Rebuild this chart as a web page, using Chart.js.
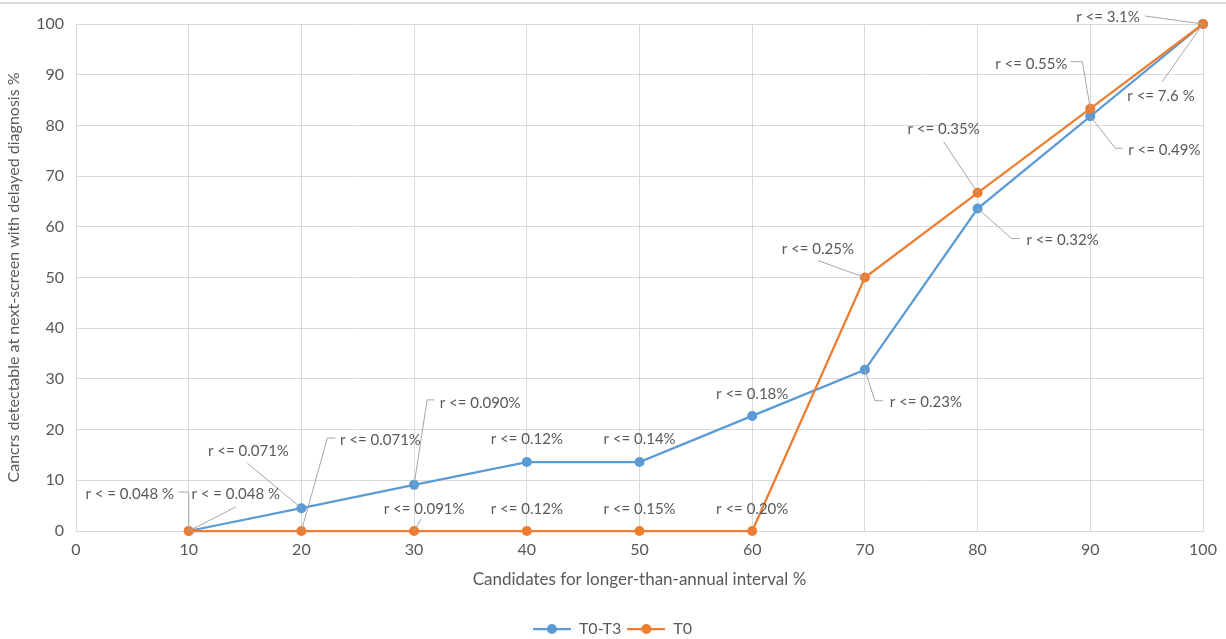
<!DOCTYPE html>
<html>
<head>
<meta charset="utf-8">
<script src="https://cdn.jsdelivr.net/npm/chart.js@4.4.0/dist/chart.umd.min.js"></script>
<style>
  html, body { margin: 0; padding: 0; background: #fff; }
  #wrap { position: relative; width: 1226px; height: 639px; }
  canvas { display: block; }
</style>
</head>
<body>
<div id="wrap"><canvas id="chart" width="1226" height="639"></canvas></div>
<script>
// Chart data
const xValues = [10, 20, 30, 40, 50, 60, 70, 80, 90, 100];
const t0t3Values = [0, 4.5, 9.1, 13.6, 13.6, 22.7, 31.8, 63.6, 81.8, 100];
const t0Values = [0, 0, 0, 0, 0, 0, 50, 66.7, 83.3, 100];

const t0t3Labels = ['r < = 0.048 %', 'r <= 0.071%', 'r <= 0.090%', 'r <= 0.12%', 'r <= 0.14%',
    'r <= 0.18%', 'r <= 0.23%', 'r <= 0.32%', 'r <= 0.49%', 'r <= 7.6 %'];
const t0Labels = ['r < = 0.048 %', 'r <= 0.071%', 'r <= 0.091%', 'r <= 0.12%', 'r <= 0.15%',
    'r <= 0.20%', 'r <= 0.25%', 'r <= 0.35%', 'r <= 0.55%', 'r <= 3.1%'];

// Callout placement (pixels from the point): text centre + leader polyline
const t0t3Callouts = [
    { dx: -59, dy: -37, leader: [[0, -39], [-10, -39]] },
    { dx: -53, dy: -57, leader: [[-54, -45]] },
    { dx: 66, dy: -82, leader: [[13, -85], [20, -85]] },
    { dx: 0, dy: -23, leader: null },
    { dx: 0, dy: -23, leader: null },
    { dx: 0, dy: -22, leader: null },
    { dx: 61, dy: 32, leader: [[10, 31], [18, 31]] },
    { dx: 85, dy: 32, leader: [[34, 30], [42, 30]] },
    { dx: 74, dy: 34, leader: [[25, 32], [32, 32]] },
    { dx: -42, dy: 72, leader: [[-41, 58]] }
];
const t0Callouts = [
    { dx: 47, dy: -37, leader: [[47, -24]] },
    { dx: 79, dy: -91, leader: [[26, -93], [34, -93]] },
    { dx: 10, dy: -22, leader: [[7, -12]] },
    { dx: 0, dy: -22, leader: null },
    { dx: 0, dy: -22, leader: null },
    { dx: 0, dy: -22, leader: null },
    { dx: -47, dy: -28, leader: [[-47, -17]] },
    { dx: -34, dy: -64, leader: [[-34, -51]] },
    { dx: -59, dy: -45, leader: [[-8, -47], [-20, -47]] },
    { dx: -95, dy: -7, leader: [[-58, -8]] }
];

const FONT = 'Lato, "Open Sans", sans-serif';
const TEXT = '#595959';
const GRID = '#d9d9d9';
const BLUE = '#5B9BD5';
const ORANGE = '#ED7D31';

function legendIcon(color) {
    const c = document.createElement('canvas');
    c.width = 38; c.height = 12;
    const g = c.getContext('2d');
    g.strokeStyle = color; g.lineWidth = 2.25;
    g.beginPath(); g.moveTo(0, 6); g.lineTo(38, 6); g.stroke();
    g.fillStyle = color;
    g.beginPath(); g.arc(19, 6, 5, 0, Math.PI * 2); g.fill();
    return c;
}

const calloutPlugin = {
    id: 'callouts',
    afterLayout(chart) {
        // nudge the legend to sit where the original one does
        chart.legend.left += 11;
        chart.legend.right += 11;
    },
    afterDatasetsDraw(chart) {
        const ctx = chart.ctx;
        const sets = [[0, t0t3Labels, t0t3Callouts], [1, t0Labels, t0Callouts]];
        ctx.save();
        ctx.font = '15px ' + FONT;
        ctx.textAlign = 'center';
        ctx.textBaseline = 'middle';
        sets.forEach(([idx, labels, callouts]) => {
            const meta = chart.getDatasetMeta(idx);
            meta.data.forEach((pt, i) => {
                const c = callouts[i];
                if (c.leader) {
                    ctx.strokeStyle = '#a6a6a6';
                    ctx.lineWidth = 1;
                    ctx.beginPath();
                    ctx.moveTo(pt.x, pt.y);
                    c.leader.forEach(([lx, ly]) => ctx.lineTo(pt.x + lx, pt.y + ly));
                    ctx.stroke();
                }
                ctx.fillStyle = TEXT;
                ctx.fillText(labels[i], pt.x + c.dx, pt.y + c.dy);
            });
        });
        ctx.restore();
    },
    beforeDraw(chart) {
        const ctx = chart.ctx;
        ctx.save();
        ctx.strokeStyle = '#d9d9d9';
        ctx.lineWidth = 2;
        ctx.beginPath(); ctx.moveTo(0, 3); ctx.lineTo(chart.width, 3); ctx.stroke();
        ctx.restore();
    }
};

new Chart(document.getElementById('chart'), {
    type: 'line',
    data: {
        datasets: [
            {
                label: 'T0-T3',
                data: xValues.map((x, i) => ({ x, y: t0t3Values[i] })),
                borderColor: BLUE,
                backgroundColor: BLUE,
                borderWidth: 2.25,
                pointRadius: 5,
                pointHoverRadius: 5,
                pointBorderWidth: 0,
                tension: 0,
                clip: false,
                order: 1
            },
            {
                label: 'T0',
                data: xValues.map((x, i) => ({ x, y: t0Values[i] })),
                borderColor: ORANGE,
                backgroundColor: ORANGE,
                borderWidth: 2.25,
                pointRadius: 5,
                pointHoverRadius: 5,
                pointBorderWidth: 0,
                tension: 0,
                clip: false,
                order: 0
            }
        ]
    },
    options: {
        responsive: false,
        animation: false,
        layout: { padding: { left: 0, right: 23, top: 24, bottom: -8 } },
        elements: { point: { pointStyle: 'circle' } },
        plugins: {
            legend: {
                position: 'bottom',
                labels: {
                    color: TEXT,
                    font: { family: FONT, size: 16 },
                    usePointStyle: true,
                    pointStyleWidth: 38,
                    padding: 6,
                    generateLabels(chart) {
                        return chart.data.datasets.map((ds, i) => ({
                            text: ds.label,
                            fontColor: TEXT,
                            pointStyle: legendIcon(ds.borderColor),
                            lineWidth: 0,
                            strokeStyle: ds.borderColor,
                            fillStyle: ds.borderColor,
                            datasetIndex: i
                        }));
                    }
                }
            },
            tooltip: { enabled: false }
        },
        scales: {
            x: {
                type: 'linear',
                min: 0, max: 100,
                ticks: { stepSize: 10, color: TEXT, font: { family: FONT, size: 16 }, padding: 9 },
                grid: { color: GRID, drawTicks: false, lineWidth: 1 },
                border: { color: GRID },
                title: {
                    display: true,
                    text: 'Candidates for longer-than-annual interval %',
                    color: TEXT,
                    font: { family: FONT, size: 17 },
                    padding: { top: 10, bottom: 25 }
                },
                afterFit(scale) { scale.height = 84; }
            },
            y: {
                min: 0, max: 100,
                ticks: { stepSize: 10, color: TEXT, font: { family: FONT, size: 16 }, padding: 12 },
                grid: { color: GRID, drawTicks: false, lineWidth: 1 },
                border: { color: GRID },
                title: {
                    display: true,
                    text: 'Cancrs detectable at next-screen with delayed diagnosis %',
                    color: TEXT,
                    font: { family: FONT, size: 16 },
                    padding: { top: 4, bottom: 0 }
                },
                afterFit(scale) { scale.width = 76; }
            }
        }
    },
    plugins: [calloutPlugin]
});
</script>
</body>
</html>
